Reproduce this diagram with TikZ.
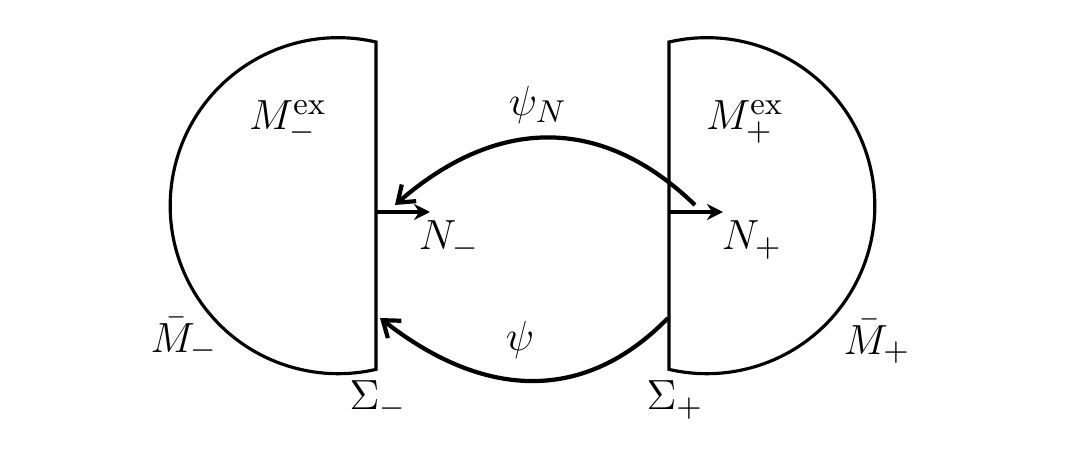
\documentclass[tikz,border=0pt]{standalone}
\usetikzlibrary{arrows.meta, positioning, calc}
\tikzset{
  every picture/.style={line width=0.9pt},
  lab/.style={font=\fontsize{12.5}{14}\selectfont, inner sep=1pt},
  region/.style={draw=black, line width=0.9pt},
  normal/.style={-{Stealth[length=1.6mm, width=1.6mm]}, line width=0.9pt},
  gluemap/.style={-{Straight Barb[length=1.5mm, width=2.2mm]}, line width=1.2pt},
}
\begin{document}
\begin{tikzpicture}
  \useasboundingbox (0,0) rectangle (10.7,4.58);

  % left half
  \coordinate (lt) at (3.76,4.16);
  \coordinate (lb) at (3.76,0.89);
  \draw[region] (lt) arc[start angle=77, end angle=283, radius=1.68] -- cycle;
  \coordinate (ln) at (3.76,2.46);
  \coordinate (lne) at (4.30,2.46);
  \draw[normal] (ln) -- (lne);

  % right half
  \coordinate (rt) at (6.69,4.16);
  \coordinate (rb) at (6.69,0.89);
  \draw[region] (rt) arc[start angle=103, end angle=-103, radius=1.68] -- cycle;
  \coordinate (rn) at (6.69,2.46);
  \coordinate (rne) at (7.23,2.46);
  \draw[normal] (rn) -- (rne);

  % labels
  \node[lab] (mexm) at (2.88,3.36) {$M^{\mathrm{ex}}_-$};
  \node[lab] (mexp) at (7.45,3.36) {$M^{\mathrm{ex}}_+$};
  \node[lab] (nm)   at (4.49,2.18) {$N_-$};
  \node[lab] (np)   at (7.52,2.18) {$N_+$};
  \node[lab] (mbm)  at (1.84,1.18) {$\bar M_-$};
  \node[lab] (mbp)  at (8.77,1.16) {$\bar M_+$};
  \node[lab] (sm)   at (3.78,0.58) {$\Sigma_-$};
  \node[lab] (sp)   at (6.75,0.58) {$\Sigma_+$};
  \node[lab] (psin) at (5.38,3.53) {$\psi_N$};
  \node[lab] (psi)  at (5.20,1.18) {$\psi$};

  % maps between the halves
  \coordinate (an0) at (6.95,2.53);
  \coordinate (an1) at (3.95,2.53);
  \draw[gluemap] (an0) .. controls (6.0,3.45) and (4.95,3.40) .. (an1);
  \coordinate (a0) at (6.68,1.40);
  \coordinate (a1) at (3.80,1.40);
  \draw[gluemap] (a0) .. controls (5.85,0.55) and (4.85,0.58) .. (a1);
\end{tikzpicture}
\end{document}
